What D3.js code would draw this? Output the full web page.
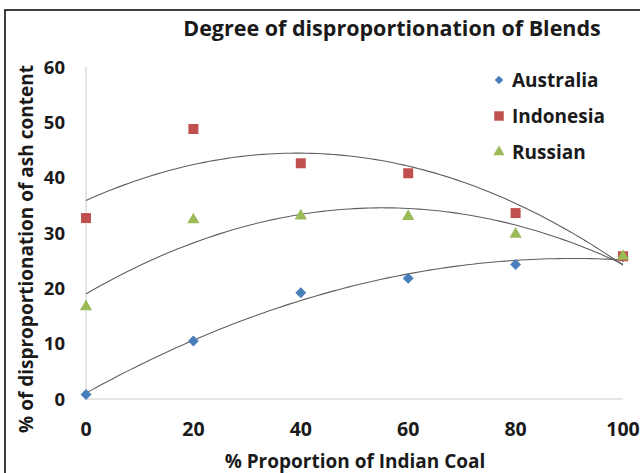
<!DOCTYPE html>
<html><head><meta charset="utf-8">
<script src="https://cdn.jsdelivr.net/npm/d3@7"></script>
<style>body{margin:0;background:#fff}svg{display:block}text{font-family:"Open Sans",Lato,sans-serif;font-weight:bold;fill:#1a1a1a}</style>
</head><body>
<script>
const xValues = [0, 20, 40, 60, 80, 100];
const australia = [0.8, 10.5, 19.2, 21.8, 24.3, 25.7];
const indonesia = [32.7, 48.8, 42.6, 40.8, 33.6, 25.8];
const russian = [16.7, 32.4, 33.1, 33.0, 29.8, 25.8];
const seriesNames = ["Australia", "Indonesia", "Russian"];
const seriesColors = ["#4A7EBB", "#C0504D", "#9BBB59"];
const yTicks = [0, 10, 20, 30, 40, 50, 60];
const xTicks = [0, 20, 40, 60, 80, 100];
const title = "Degree of disproportionation of Blends";
const xTitle = "% Proportion of Indian Coal";
const yTitle = "% of disproportionation of ash content";

const W = 640, H = 473;
const svg = d3.select("body").append("svg").attr("width", W).attr("height", H);
svg.append("rect").attr("x", 5).attr("y", 10).attr("width", W).attr("height", H)
  .attr("fill", "#fff").attr("stroke", "#000").attr("stroke-width", 1.5);

const x = d3.scaleLinear().domain([0, 100]).range([86, 623]);
const y = d3.scaleLinear().domain([0, 60]).range([399, 67]);

// axis lines
svg.append("line").attr("x1", x(0)).attr("x2", x(0)).attr("y1", y(60)).attr("y2", y(0)).attr("stroke", "#cccccc").attr("stroke-width", 1);
svg.append("line").attr("x1", x(0)).attr("x2", x(100)).attr("y1", y(0)).attr("y2", y(0)).attr("stroke", "#cccccc").attr("stroke-width", 1);

// tick labels
svg.selectAll(".yt").data(yTicks).enter().append("text").attr("class", "yt")
  .attr("x", 65).attr("y", d => y(d)).attr("dy", "0.36em").attr("text-anchor", "end")
  .attr("font-size", 18.5).text(d => d);
svg.selectAll(".xt").data(xTicks).enter().append("text").attr("class", "xt")
  .attr("x", d => x(d)).attr("y", 436).attr("text-anchor", "middle")
  .attr("font-size", 19.5).text(d => d);

// titles
svg.append("text").attr("x", 392).attr("y", 36).attr("text-anchor", "middle").attr("font-size", 21.5).text(title);
svg.append("text").attr("x", 355).attr("y", 468).attr("text-anchor", "middle").attr("font-size", 19).text(xTitle);
svg.append("text").attr("transform", "translate(33,249) rotate(-90)").attr("text-anchor", "middle").attr("font-size", 19).text(yTitle);

// quadratic least-squares trendlines
function quadFit(xs, ys) {
  let s = [0,0,0,0,0], t = [0,0,0];
  xs.forEach((xv, i) => {
    for (let k = 0; k < 5; k++) s[k] += Math.pow(xv, k);
    for (let k = 0; k < 3; k++) t[k] += ys[i] * Math.pow(xv, k);
  });
  const A = [[s[0], s[1], s[2], t[0]], [s[1], s[2], s[3], t[1]], [s[2], s[3], s[4], t[2]]];
  for (let i = 0; i < 3; i++) {
    for (let j = i + 1; j < 3; j++) {
      const f = A[j][i] / A[i][i];
      for (let k = i; k < 4; k++) A[j][k] -= f * A[i][k];
    }
  }
  const c = [0,0,0];
  for (let i = 2; i >= 0; i--) {
    let v = A[i][3];
    for (let k = i + 1; k < 3; k++) v -= A[i][k] * c[k];
    c[i] = v / A[i][i];
  }
  return xv => c[0] + c[1] * xv + c[2] * xv * xv;
}
const allSeries = [australia, indonesia, russian];
const line = d3.line().x(d => x(d[0])).y(d => y(d[1]));
allSeries.forEach(vals => {
  const f = quadFit(xValues, vals);
  const pts = d3.range(0, 100.01, 1).map(v => [v, f(v)]);
  svg.append("path").attr("d", line(pts)).attr("fill", "none").attr("stroke", "#5f5f5f").attr("stroke-width", 1.1);
});

// markers
function marker(sel, i, legend) {
  if (i === 0) return sel.append("path").attr("d", d3.symbol(d3.symbolSquare, legend ? 36 : 60)()).attr("fill", seriesColors[0]).attr("transform", "rotate(45)");
  if (i === 1) return sel.append("path").attr("d", d3.symbol(d3.symbolSquare, legend ? 90 : 100)()).attr("fill", seriesColors[1]);
  return sel.append("path").attr("d", d3.symbol(d3.symbolTriangle, legend ? 55 : 65)()).attr("fill", seriesColors[2]);
}
allSeries.forEach((vals, i) => {
  vals.forEach((v, j) => {
    const g = svg.append("g").attr("transform", `translate(${x(xValues[j])},${y(v)})`);
    marker(g, i, false);
  });
});

// legend
const legY = [80, 116, 152];
seriesNames.forEach((n, i) => {
  const g = svg.append("g").attr("transform", `translate(499,${legY[i]})`);
  marker(g, i, true);
  svg.append("text").attr("x", 512).attr("y", legY[i]).attr("dy", "0.36em").attr("font-size", 19).text(n);
});
</script>
</body></html>
